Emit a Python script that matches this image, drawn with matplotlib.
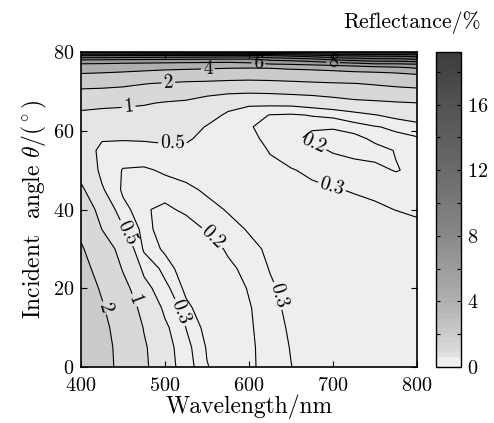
import numpy as np
import matplotlib
matplotlib.use('Agg')
import matplotlib.pyplot as plt
from matplotlib.colors import LinearSegmentedColormap, Normalize
import matplotlib.cm as cm

plt.rcParams['font.family'] = 'cmr10'
plt.rcParams['mathtext.fontset'] = 'cm'
plt.rcParams['axes.formatter.use_mathtext'] = True
plt.rcParams['axes.unicode_minus'] = False

# ---- data (reflectance in %) ----
wavelengths = [400, 425, 450, 475, 500, 525, 550, 575, 600, 625, 650, 675, 700, 725, 750, 775, 800]
angles = [0, 5, 10, 15, 20, 25, 30, 35, 40, 45, 50, 55, 58, 61, 64, 67, 70, 72, 74, 76, 77, 78, 79, 80]

r400 = [2.9, 2.88, 2.8, 2.65, 2.5, 2.3, 2.1, 1.8, 1.5, 1.1, 0.8, 0.65, 0.68, 0.75, 0.88, 1.2, 1.75, 2.55, 3.6, 5.1, 6.0, 8.0, 11.6, 17.0]
r425 = [2.32, 2.3, 2.22, 2.08, 1.9, 1.68, 1.4, 0.99, 0.75, 0.53, 0.43, 0.44, 0.52, 0.64, 0.82, 1.15, 1.7, 2.45, 3.45, 5.0, 5.9, 7.9, 11.6, 17.2]
r450 = [1.75, 1.72, 1.62, 1.45, 1.2, 0.95, 0.75, 0.53, 0.35, 0.27, 0.29, 0.4, 0.52, 0.62, 0.78, 1.12, 1.6, 2.3, 3.3, 4.8, 5.7, 7.8, 11.5, 17.4]
r475 = [1.1, 1.07, 0.97, 0.8, 0.6, 0.43, 0.27, 0.23, 0.21, 0.23, 0.28, 0.4, 0.53, 0.63, 0.78, 1.05, 1.5, 2.05, 3.1, 4.6, 5.6, 7.7, 11.4, 17.6]
r500 = [0.65, 0.62, 0.55, 0.44, 0.34, 0.25, 0.18, 0.16, 0.18, 0.24, 0.32, 0.43, 0.55, 0.67, 0.8, 0.95, 1.4, 1.9, 2.95, 4.4, 5.5, 7.6, 11.3, 17.8]
r525 = [0.36, 0.34, 0.298, 0.23, 0.17, 0.14, 0.13, 0.15, 0.22, 0.27, 0.35, 0.44, 0.54, 0.64, 0.76, 0.9, 1.3, 1.75, 2.85, 4.3, 5.4, 7.5, 11.2, 18.0]
r550 = [0.205, 0.19, 0.16, 0.13, 0.115, 0.11, 0.13, 0.21, 0.26, 0.32, 0.36, 0.39, 0.42, 0.48, 0.63, 0.78, 1.15, 1.7, 2.75, 4.2, 5.3, 7.4, 11.1, 18.2]
r575 = [0.15, 0.14, 0.13, 0.12, 0.13, 0.17, 0.22, 0.26, 0.31, 0.34, 0.36, 0.37, 0.38, 0.4, 0.45, 0.62, 1.1, 1.6, 2.65, 4.1, 5.25, 7.3, 11.0, 18.4]
r600 = [0.18, 0.18, 0.185, 0.19, 0.21, 0.24, 0.27, 0.31, 0.33, 0.35, 0.35, 0.34, 0.32, 0.305, 0.36, 0.55, 1.08, 1.55, 2.6, 4.05, 5.6, 7.2, 10.9, 18.6]
r625 = [0.24, 0.245, 0.255, 0.27, 0.285, 0.305, 0.32, 0.335, 0.34, 0.335, 0.32, 0.295, 0.28, 0.28, 0.295, 0.56, 1.1, 1.6, 2.65, 4.1, 6.1, 8.2, 11.5, 18.7]
r650 = [0.298, 0.305, 0.315, 0.325, 0.335, 0.34, 0.345, 0.345, 0.34, 0.325, 0.305, 0.26, 0.22, 0.21, 0.28, 0.57, 1.15, 1.7, 2.75, 4.3, 6.3, 8.5, 12.2, 18.8]
r675 = [0.34, 0.342, 0.345, 0.35, 0.35, 0.35, 0.345, 0.34, 0.33, 0.315, 0.285, 0.23, 0.18, 0.21, 0.31, 0.62, 1.2, 1.8, 2.9, 4.4, 6.6, 9.0, 12.8, 18.9]
r700 = [0.37, 0.37, 0.37, 0.37, 0.365, 0.36, 0.35, 0.34, 0.325, 0.305, 0.26, 0.19, 0.16, 0.21, 0.33, 0.7, 1.3, 1.9, 3.0, 4.6, 7.0, 10.0, 13.6, 19.0]
r725 = [0.39, 0.39, 0.385, 0.38, 0.375, 0.365, 0.355, 0.34, 0.32, 0.295, 0.24, 0.17, 0.17, 0.24, 0.4, 0.8, 1.45, 1.98, 3.1, 4.9, 7.4, 10.5, 14.0, 19.1]
r750 = [0.41, 0.41, 0.405, 0.4, 0.39, 0.375, 0.36, 0.34, 0.315, 0.28, 0.22, 0.17, 0.22, 0.29, 0.49, 0.85, 1.55, 2.1, 3.0, 5.3, 8.0, 11.0, 14.2, 19.15]
r775 = [0.42, 0.42, 0.415, 0.41, 0.4, 0.385, 0.365, 0.34, 0.298, 0.25, 0.195, 0.205, 0.26, 0.33, 0.58, 0.92, 1.65, 2.25, 3.2, 5.6, 8.0, 11.0, 14.3, 19.2]
r800 = [0.43, 0.43, 0.425, 0.42, 0.41, 0.395, 0.37, 0.33, 0.28, 0.245, 0.22, 0.23, 0.28, 0.4, 0.66, 0.98, 1.7, 2.4, 3.6, 6.2, 8.2, 11.6, 14.6, 19.2]

fill_levels = [0, 0.2, 0.3, 0.5, 1, 2, 4, 6, 8, 10, 12, 14, 16, 18, 20]
line_levels = [0.2, 0.3, 0.5, 1, 2, 4, 6, 8, 10, 12, 14, 16, 18]
cbar_max = 19.2
cbar_ticks = [0, 4, 8, 12, 16]
cbar_minor = [2, 6, 10, 14, 18]
x_ticks = [400, 500, 600, 700, 800]
y_ticks = [0, 20, 40, 60, 80]

# label anchor points (wavelength, angle) for the contour labels
label_points = [(428, 15), (464, 17), (454, 34), (520, 14), (557, 33), (633, 18),
                (509, 56.4), (457, 65.8), (504, 72.4), (551, 75.7), (611, 76.7),
                (700, 77.3), (675, 56), (700, 46.6)]

# gray colour scale (value -> gray)
gray_stops = [(0, '#efefef'), (0.3, '#eeeeee'), (0.5, '#e2e2e2'), (1, '#d8d8d8'),
              (2, '#cacaca'), (4, '#afafaf'), (8, '#888888'), (12, '#6a6a6a'),
              (16, '#535353'), (19.2, '#3d3d3d')]

# ---- figure ----
R = np.array([r400, r425, r450, r475, r500, r525, r550, r575, r600, r625,
              r650, r675, r700, r725, r750, r775, r800]).T
W, A = np.meshgrid(wavelengths, angles)

cmap = LinearSegmentedColormap.from_list(
    'refl', [(v / cbar_max, c) for v, c in gray_stops], N=256)
norm = Normalize(vmin=0, vmax=cbar_max)
fill_colors = [cmap(norm(min(lv, cbar_max))) for lv in fill_levels[:-1]]

fig = plt.figure(figsize=(4.94, 4.23), dpi=100)
ax = fig.add_axes([81 / 494, 1 - 367 / 423, 336 / 494, 315 / 423])

ax.contourf(W, A, R, levels=fill_levels, colors=fill_colors)
cs = ax.contour(W, A, R, levels=line_levels, colors='black', linewidths=0.8)
ax.clabel(cs, fmt=lambda v: f'{v:g}', fontsize=14, inline=True,
          inline_spacing=2, manual=label_points)

ax.set_xlim(400, 800)
ax.set_ylim(0, 80)
ax.set_xticks(x_ticks)
ax.set_yticks(y_ticks)
ax.tick_params(direction='in', top=True, right=True, length=4, width=0.8,
               labelsize=14.5)
ax.tick_params(axis='x', pad=7)
ax.tick_params(axis='y', pad=5)
for s in ax.spines.values():
    s.set_linewidth(1.2)
ax.set_xlabel('Wavelength/nm', fontsize=17, labelpad=0)
ax.set_ylabel(r'Incident  angle $\theta$/$(^\circ)$', fontsize=17, labelpad=3)

cax = fig.add_axes([436 / 494, 1 - 367 / 423, 25 / 494, 315 / 423])
cb_cmap = LinearSegmentedColormap.from_list(
    'refl_cb', [(v / cbar_max, c) for v, c in gray_stops], N=64)
sm = cm.ScalarMappable(norm=norm, cmap=cb_cmap)
cb = fig.colorbar(sm, cax=cax)
cb.set_ticks(cbar_ticks)
cb.ax.set_yticks(cbar_minor, minor=True)
cb.ax.yaxis.set_ticks_position('both')
cb.ax.tick_params(which='both', direction='in', length=3, width=0.8,
                  labelsize=14.5, pad=4)
cb.outline.set_linewidth(1.0)

fig.text(412 / 494, 1 - 23 / 423, 'Reflectance/%', ha='center', va='center',
         fontsize=15.7)

fig.savefig('out.png', dpi=100)
